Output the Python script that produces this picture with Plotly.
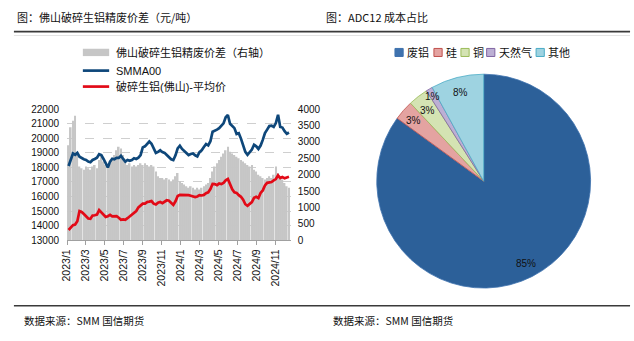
import math
import pandas as pd
import plotly.graph_objects as go

W, H = 634, 341

# ---------------- data ----------------
week_start = "2023-01-06"   # weekly observations (Fridays)

smm_a00 = [18100, 18490, 18960, 18870, 19000, 18740, 18630, 18560, 18510, 18400,
           18360, 18510, 18580, 18670, 18910, 18850, 18580, 18250, 18000, 18400,
           18600, 18560, 18650, 18650, 18800, 18580, 18400, 18510, 18450, 18510,
           18630, 18580, 18670, 18850, 19380, 19450, 19630, 19780, 19630, 19290,
           19000, 19070, 19180, 19050, 19000, 18850, 18710, 18560, 18510, 18830,
           19310, 19490, 19270, 19140, 19030, 18850, 18920, 18960, 18830, 18760,
           19050, 19180, 19400, 19600, 19510, 19800, 20450, 20500, 20600, 20700,
           20850, 21030, 21450, 21600, 21000, 20850, 20700, 20300, 20350, 19980,
           19450, 19070, 18870, 19090, 19230, 19560, 19450, 19270, 19500, 19890,
           20360, 20600, 20850, 20870, 20780, 21050, 21620, 20780, 20740, 20490,
           20310, 20400]

scrap_foshan = [13700, 13890, 14030, 14070, 14300, 15000, 14940, 14800, 14630, 14490,
                14470, 14690, 14710, 14760, 15070, 14890, 14780, 14600, 14650, 14740,
                14630, 14630, 14650, 14540, 14400, 14430, 14400, 14510, 14630, 14710,
                14850, 15000, 15250, 15400, 15510, 15510, 15620, 15650, 15690, 15510,
                15450, 15580, 15620, 15540, 15650, 15740, 15710, 15580, 15420, 15670,
                16030, 16110, 16110, 16070, 16070, 16090, 16050, 16000, 15960, 16000,
                16090, 16070, 16110, 16230, 16290, 16510, 16870, 16850, 16780, 16890,
                16850, 16940, 17110, 17200, 16800, 16490, 16290, 16250, 16090, 15980,
                15780, 15470, 15360, 15470, 15620, 15910, 15980, 15890, 16250, 16420,
                16760, 16940, 16980, 17000, 17110, 17200, 17450, 17270, 17340, 17250,
                17310, 17360]

spread = [2900, 3450, 3650, 3800, 2600, 2250, 2200, 2150, 2250, 2200,
          2150, 2250, 2300, 2200, 2450, 2600, 2400, 2300, 2250, 2350,
          2450, 2600, 2750, 2850, 2800, 2600, 2400, 2300, 2350, 2250,
          2300, 2250, 2300, 2350, 2300, 2350, 2300, 2250, 2300, 2250,
          2100, 1950, 1900, 1900, 1850, 1900, 1850, 1800, 1850, 1950,
          2050, 1800, 1750, 1700, 1650, 1600, 1650, 1600, 1550, 1600,
          1550, 1600, 1650, 1700, 1750, 1900, 2100, 2250, 2350, 2450,
          2550, 2650, 2750, 2850, 2700, 2650, 2600, 2550, 2500, 2450,
          2400, 2350, 2300, 2250, 2300, 2150, 2100, 2000, 1950, 1900,
          1850, 1900, 1950, 1900, 2000, 2250, 2050, 1950, 1850, 1750,
          1650, 1600]

tick_dates = ["2023-01-01", "2023-03-01", "2023-05-01", "2023-07-01", "2023-09-01", "2023-11-01",
              "2024-01-01", "2024-03-01", "2024-05-01", "2024-07-01", "2024-09-01", "2024-11-01"]
tick_labels = ["2023/1", "2023/3", "2023/5", "2023/7", "2023/9", "2023/11",
               "2024/1", "2024/3", "2024/5", "2024/7", "2024/9", "2024/11"]

line_names = ["佛山破碎生铝精废价差（右轴）", "SMMA00", "破碎生铝(佛山)-平均价"]

pie_labels = ["废铝", "硅", "铜", "天然气", "其他"]
pie_values = [85, 3, 3, 1, 8]

# ---------------- styles ----------------
C_BAR = "#C6C6C6"
C_BLUE = "#0E477A"
C_RED = "#E20A17"
pie_fill = ["#2C6099", "#E4A3A1", "#D4E3B3", "#BCAFD4", "#9ED3E1"]
pie_edge = ["#3F72AE", "#C0504D", "#9BBB59", "#8064A2", "#4BACC6"]
label_r = [0.86, 0.86, 0.84, 0.92, 0.86]   # radial position of value labels (fraction of radius)

CJK = "Noto Sans CJK SC"
NUM = "Liberation Sans"


def px(x):
    return x / W


def py(y):
    return 1 - y / H


dates = pd.date_range(week_start, periods=len(smm_a00), freq="7D")

fig = go.Figure()
# bars on the base (right-side) axis so that lines on the overlaying axis are drawn above them
fig.add_trace(go.Bar(x=dates, y=spread, yaxis="y", name=line_names[0],
                     marker=dict(color=C_BAR, line=dict(width=0)), showlegend=False))
fig.add_trace(go.Scatter(x=dates, y=smm_a00, mode="lines", name=line_names[1], yaxis="y2",
                         line=dict(color=C_BLUE, width=2.7), showlegend=False))
fig.add_trace(go.Scatter(x=dates, y=scrap_foshan, mode="lines", name=line_names[2], yaxis="y2",
                         line=dict(color=C_RED, width=2.7), showlegend=False))

# pie
PCX, PCY, PR = 482, 182, 110.5
fig.add_trace(go.Pie(labels=pie_labels, values=pie_values, sort=False, direction="clockwise",
                     rotation=0, textinfo="none", hoverinfo="label+percent",
                     marker=dict(colors=pie_fill, line=dict(color=pie_edge, width=0.8)),
                     domain=dict(x=[px(PCX - PR), px(PCX + PR)], y=[py(PCY + PR), py(PCY - PR)]),
                     showlegend=False))

shapes = []
annotations = []

# header / footer rules
shapes.append(dict(type="line", xref="paper", yref="paper", x0=px(7), x1=px(630), y0=py(27.5), y1=py(27.5),
                   line=dict(color="#3A3A3A", width=1.6)))
shapes.append(dict(type="line", xref="paper", yref="paper", x0=px(7), x1=px(630), y0=py(31.5), y1=py(31.5),
                   line=dict(color="#E4E4E4", width=1)))
shapes.append(dict(type="line", xref="paper", yref="paper", x0=px(7), x1=px(630), y0=py(310.7), y1=py(310.7),
                   line=dict(color="#3A3A3A", width=1.6)))

annotations.append(dict(text="图：佛山破碎生铝精废价差（元/吨）", x=px(8), y=py(12.5), xref="paper", yref="paper",
                        xanchor="left", yanchor="middle", showarrow=False,
                        font=dict(family=CJK, size=11, color="#111")))
annotations.append(dict(text="图：ADC12 成本占比", x=px(321), y=py(12.5), xref="paper", yref="paper",
                        xanchor="left", yanchor="middle", showarrow=False,
                        font=dict(family=CJK, size=11, color="#111")))
for fx in (15, 328):
    annotations.append(dict(text="数据来源：SMM 国信期货", x=px(fx), y=py(326), xref="paper", yref="paper",
                            xanchor="left", yanchor="middle", showarrow=False,
                            font=dict(family=CJK, size=10.5, color="#111")))

# left legend (manual)
LX0, LX1, LTX = 76.7, 103.3, 108
rows_y = [49, 67.8, 84.3]
shapes.append(dict(type="rect", xref="paper", yref="paper", x0=px(LX0), x1=px(LX1),
                   y0=py(rows_y[0] + 3.8), y1=py(rows_y[0] - 3.8), fillcolor=C_BAR, line=dict(width=0)))
shapes.append(dict(type="line", xref="paper", yref="paper", x0=px(LX0), x1=px(LX1),
                   y0=py(rows_y[1]), y1=py(rows_y[1]), line=dict(color=C_BLUE, width=2.7)))
shapes.append(dict(type="line", xref="paper", yref="paper", x0=px(LX0), x1=px(LX1),
                   y0=py(rows_y[2]), y1=py(rows_y[2]), line=dict(color=C_RED, width=2.7)))
for name, ry in zip(line_names, rows_y):
    annotations.append(dict(text=name, x=px(LTX), y=py(ry), xref="paper", yref="paper",
                            xanchor="left", yanchor="middle", showarrow=False,
                            font=dict(family=f"{NUM}, {CJK}", size=11, color="#111")))

# pie legend (manual)
leg_swatch_x = [392.3, 431.7, 459.0, 485.0, 535.0]
for lbl, sx, fc, ec in zip(pie_labels, leg_swatch_x, pie_fill, pie_edge):
    shapes.append(dict(type="rect", xref="paper", yref="paper", x0=px(sx), x1=px(sx + 8.3),
                       y0=py(53.2), y1=py(44.9), fillcolor=ec if lbl == "废铝" else fc,
                       line=dict(color=ec, width=1)))
    annotations.append(dict(text=lbl, x=px(sx + 10.5), y=py(49), xref="paper", yref="paper",
                            xanchor="left", yanchor="middle", showarrow=False,
                            font=dict(family=CJK, size=11, color="#111")))

# pie value labels along each slice bisector
total = sum(pie_values)
cum = 0
for v, rr in zip(pie_values, label_r):
    mid = (cum + v / 2) / total * 2 * math.pi
    cum += v
    lx = PCX + rr * PR * math.sin(mid)
    ly = PCY - rr * PR * math.cos(mid)
    annotations.append(dict(text=f"{round(100 * v / total)}%", x=px(lx), y=py(ly), xref="paper", yref="paper",
                            xanchor="center", yanchor="middle", showarrow=False,
                            font=dict(family=NUM, size=10, color="#111")))

fig.update_layout(
    width=W, height=H, autosize=False,
    margin=dict(l=0, r=0, t=0, b=0, pad=0),
    paper_bgcolor="white", plot_bgcolor="white",
    bargap=0.28,
    shapes=shapes, annotations=annotations,
    xaxis=dict(domain=[px(60.7), px(287)], type="date",
               range=["2023-01-01", "2024-12-19"],
               tickvals=tick_dates, ticktext=tick_labels, tickangle=-90,
               tickfont=dict(family=NUM, size=10.5, color="#111"),
               ticks="outside", ticklen=4, tickcolor="#A0A0A0",
               showline=True, linecolor="#A0A0A0", linewidth=1,
               showgrid=False, zeroline=False),
    yaxis=dict(domain=[py(243), py(107.7)], side="right", range=[0, 4000], dtick=500,
               tickformat="d",
               tickfont=dict(family=NUM, size=10, color="#111"),
               showgrid=False, zeroline=False, showline=False, ticks="", ticklabelstandoff=6),
    yaxis2=dict(overlaying="y", side="left", range=[13000, 22000], dtick=1000,
                tickformat="d",
                tickfont=dict(family=NUM, size=10, color="#111"),
                showgrid=True, gridcolor="#CFCFCF", griddash="dash", gridwidth=1,
                zeroline=False, showline=False, ticks="", ticklabelstandoff=7),
)

fig.write_html("out.html")
